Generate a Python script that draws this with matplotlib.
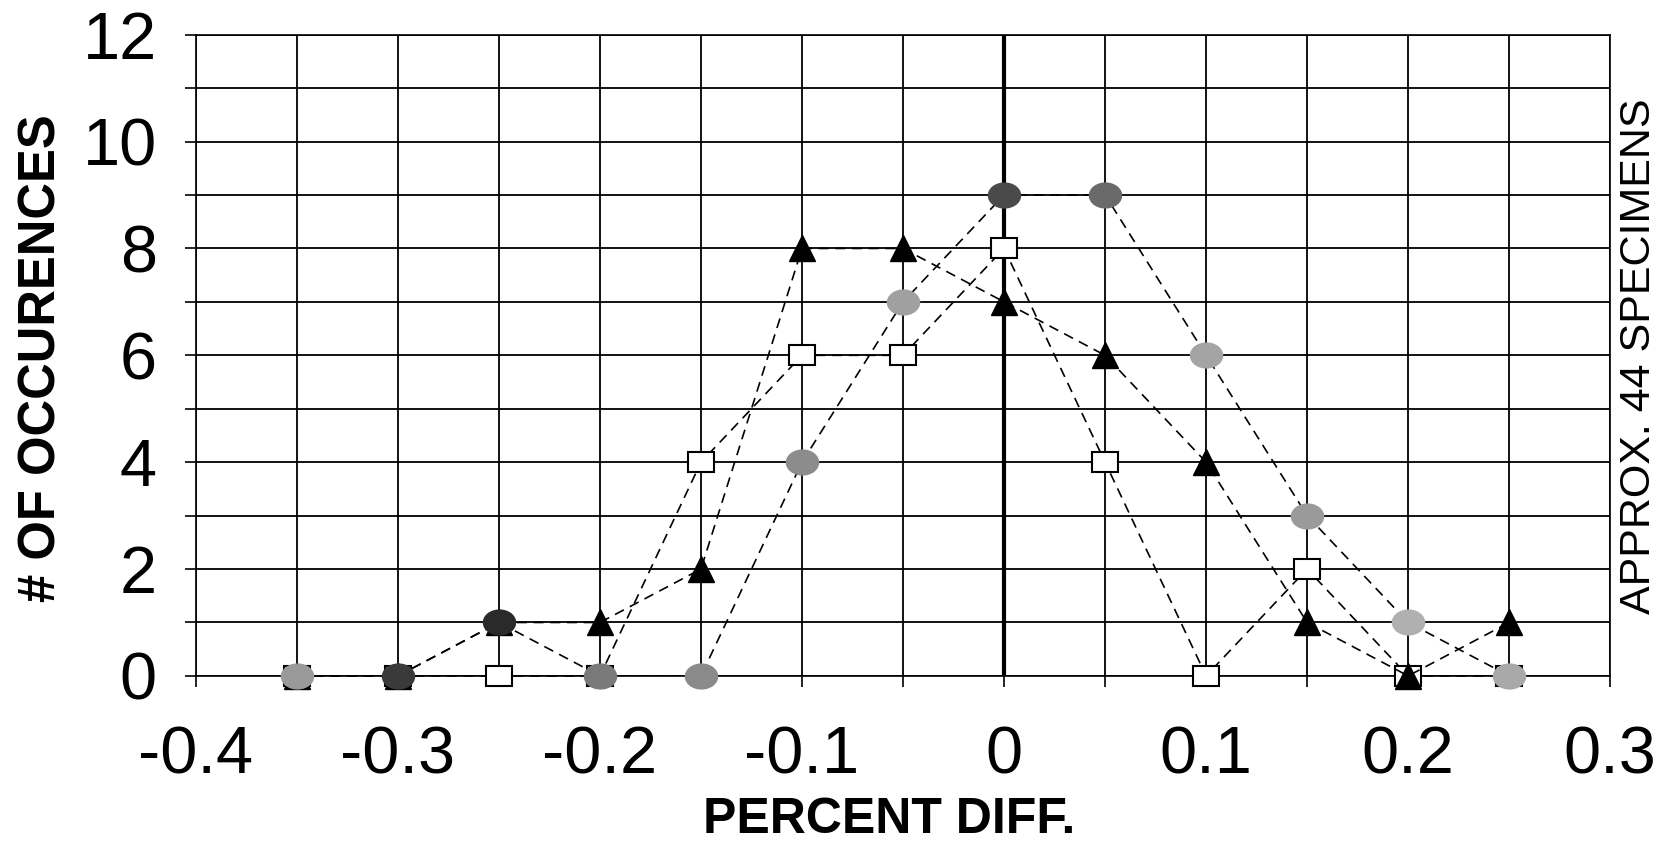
import numpy as np
import matplotlib
matplotlib.use("Agg")
import matplotlib.pyplot as plt
from matplotlib.markers import MarkerStyle
from matplotlib.transforms import Affine2D

plt.rcParams['font.family'] = ['Liberation Sans', 'DejaVu Sans']

# Percent difference bins
pct_diff = [-0.35, -0.30, -0.25, -0.20, -0.15, -0.10, -0.05, 0.0, 0.05, 0.10, 0.15, 0.20, 0.25]

# Number of occurences for each series
square_counts = [0, 0, 0, 0, 4, 6, 6, 8, 4, 0, 2, 0, 0]
triangle_counts = [0, 0, 1, 1, 2, 8, 8, 7, 6, 4, 1, 0, 1]
circle_counts = [0, 0, 1, 0, 0, 4, 7, 9, 9, 6, 3, 1, 0]

x_ticks = [-0.4, -0.3, -0.2, -0.1, 0.0, 0.1, 0.2, 0.3]
x_tick_labels = ['-0.4', '-0.3', '-0.2', '-0.1', '0', '0.1', '0.2', '0.3']
y_ticks = [0, 2, 4, 6, 8, 10, 12]

# shading of the circle markers (scan shows some darker, some lighter)
circle_shades = ['#9a9a9a', '#3a3a3a', '#2a2a2a', '#7a7a7a', '#8a8a8a', '#8c8c8c', '#a0a0a0',
                 '#4a4a4a', '#6a6a6a', '#a4a4a4', '#9a9a9a', '#b0b0b0', '#a8a8a8']

fig = plt.figure(figsize=(16.6, 8.47), dpi=100)
ax = fig.add_axes([0.118, 0.202, 0.852, 0.757])

ax.set_xlim(-0.4, 0.3)
ax.set_ylim(0, 12)
ax.set_xticks(x_ticks)
ax.set_xticklabels(x_tick_labels)
ax.set_xticks(np.arange(-0.4, 0.301, 0.05), minor=True)
ax.set_yticks(y_ticks)
ax.set_yticks(np.arange(0, 12.1, 1), minor=True)
ax.grid(True, which='both', color='black', linewidth=1.3)
ax.set_axisbelow(True)
ax.axvline(0, color='black', linewidth=3, zorder=1.5)

ax.tick_params(axis='both', which='both', direction='out', length=8, width=1.2, color='black')
ax.tick_params(axis='x', which='major', labelsize=48, pad=28)
ax.tick_params(axis='y', which='major', labelsize=48, pad=20)
for s in ax.spines.values():
    s.set_color('black')
    s.set_linewidth(1.2)

dash = (6, 4)
sq_marker = MarkerStyle('s', transform=Affine2D().scale(1.0, 0.78))
ell_marker = MarkerStyle('o', transform=Affine2D().scale(1.1, 0.85))

ax.plot(pct_diff, square_counts, color='black', linewidth=1.2, dashes=dash,
        marker=sq_marker, markersize=19, markerfacecolor='white',
        markeredgecolor='black', markeredgewidth=1.5, zorder=3, clip_on=False)
ax.plot(pct_diff, triangle_counts, color='black', linewidth=1.2, dashes=dash,
        marker='^', markersize=19, markerfacecolor='black',
        markeredgecolor='black', zorder=4, clip_on=False)
ax.plot(pct_diff, circle_counts, color='black', linewidth=1.2, dashes=dash, zorder=5)
for x, y, c in zip(pct_diff, circle_counts, circle_shades):
    ax.plot(x, y, linestyle='none', marker=ell_marker, markersize=21,
            markerfacecolor=c, markeredgecolor=c, zorder=6, clip_on=False)

fig.text(889 / 1660, 1 - 820 / 847, 'PERCENT DIFF.', fontsize=36, fontweight='bold',
         ha='center', va='center')
fig.text(42 / 1660, 1 - 358 / 847, '# OF OCCURENCES', fontsize=36.5, fontweight='bold',
         rotation=90, ha='center', va='center')
fig.text(1639 / 1660, 1 - 356 / 847, 'APPROX. 44 SPECIMENS', fontsize=31,
         rotation=90, ha='center', va='center')

fig.savefig('out.png', dpi=100, facecolor='white')
